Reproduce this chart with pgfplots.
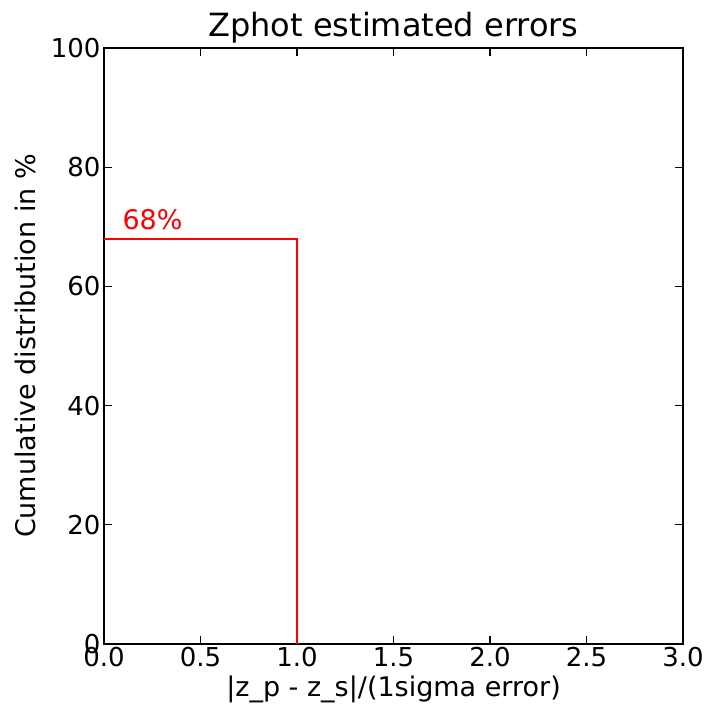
\documentclass[border=0pt]{standalone}
\usepackage{fontspec}
\setmainfont{DejaVu Sans}
\usepackage{pgfplots}
\pgfplotsset{compat=1.18}
\begin{document}
\begin{tikzpicture}[x=1pt,y=1pt]
\begin{axis}[
  at={(0,0)}, anchor=south west,
  scale only axis, width=579pt, height=596pt,
  xmin=0, xmax=3, ymin=0, ymax=100,
  xtick={0,0.5,...,3.0}, ytick={0,20,...,100},
  xticklabel style={yshift=0pt, /pgf/number format/.cd,fixed,fixed zerofill,precision=1},
  /pgf/number format/assume math mode=true,
  tick align=inside, tick pos=both,
  major tick length=8pt,
  tick style={black, line width=1.2pt},
  axis line style={line width=1.6pt},
  ticklabel style={font=\fontsize{26}{30}\selectfont},
  title={Zphot estimated errors},
  title style={font=\fontsize{32}{36}\selectfont, yshift=-5pt},
  xlabel={|z\_p - z\_s|/(1sigma error)},
  ylabel={Cumulative distribution in \%},
  label style={font=\fontsize{27}{31}\selectfont},
  xlabel style={yshift=-2pt},
  ylabel style={yshift=8pt},
  clip=false,
]
\addplot[red, line width=1.6pt] coordinates {(0,68) (1,68) (1,0)};
\node[anchor=south west, red, font=\fontsize{27}{31}\selectfont, inner sep=0pt] at (axis cs:0.095,69.5) {68\%};
\end{axis}
\useasboundingbox (-104,-68) rectangle (603,644);
\end{tikzpicture}
\end{document}
